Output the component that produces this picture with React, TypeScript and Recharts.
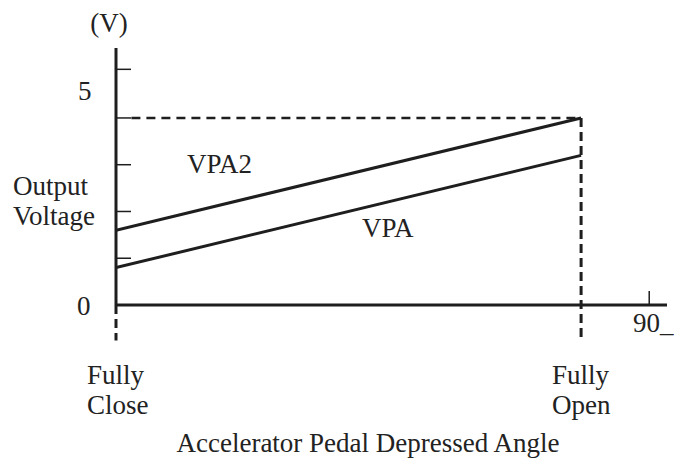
import { LineChart, Line, XAxis, YAxis, ReferenceLine } from "recharts";

// pedal angle (deg) at fully close / fully open
const angles = [0, 78.5];
const vpaValues = [1.0, 4.0];
const vpa2Values = [2.0, 5.0];
const yTicks = [0, 1.25, 2.5, 3.75, 5, 6.3];
const xTicks = [90];

const data = angles.map((a, i) => ({ angle: a, vpa: vpaValues[i], vpa2: vpa2Values[i] }));

const INK = "#1e1e1e";
const FONT = "'Liberation Serif', 'Times New Roman', serif";

const txt = { fontFamily: FONT, fontSize: 27, fill: "#222" };

const NoLabel = () => <g />;

export default function App() {
  return (
    <div style={{ position: "absolute", left: 0, top: 0, background: "#fff" }}>
      <LineChart width={685} height={459} data={data} margin={{ top: 48, right: 18, bottom: 153, left: 115 }}>
        <XAxis
          dataKey="angle"
          type="number"
          domain={[0, 93]}
          allowDataOverflow
          ticks={xTicks}
          height={1}
          tickSize={-14}
          tickMargin={0}
          tick={NoLabel}
          axisLine={{ stroke: INK, strokeWidth: 3 }}
          tickLine={{ stroke: INK, strokeWidth: 1.5 }}
        />
        <YAxis
          type="number"
          domain={[0, 6.87]}
          allowDataOverflow
          ticks={yTicks}
          width={1}
          tickSize={-15}
          tickMargin={0}
          tick={NoLabel}
          axisLine={{ stroke: INK, strokeWidth: 3 }}
          tickLine={{ stroke: INK, strokeWidth: 1.5 }}
        />
        <ReferenceLine
          segment={[{ x: 2.6, y: 5 }, { x: 78.5, y: 5 }]}
          stroke={INK}
          strokeWidth={2.5}
          strokeDasharray="9 6"
          ifOverflow="visible"
        />
        <ReferenceLine
          segment={[{ x: 78.5, y: 5 }, { x: 78.5, y: -0.95 }]}
          stroke={INK}
          strokeWidth={3}
          strokeDasharray="9 5"
          ifOverflow="visible"
        />
        <ReferenceLine
          segment={[{ x: 0, y: 0 }, { x: 0, y: -0.95 }]}
          stroke={INK}
          strokeWidth={3}
          strokeDasharray="9 5"
          ifOverflow="visible"
        />
        <Line type="linear" dataKey="vpa2" stroke={INK} strokeWidth={3} dot={false} isAnimationActive={false} />
        <Line type="linear" dataKey="vpa" stroke={INK} strokeWidth={3} dot={false} isAnimationActive={false} />
        <g>
          <text x={109} y={32} textAnchor="middle" {...txt}>(V)</text>
          <text x={78} y={100} {...txt}>5</text>
          <text x={77} y={315} {...txt}>0</text>
          <text x={13} y={195} {...txt}>Output</text>
          <text x={13} y={225} {...txt}>Voltage</text>
          <text x={187} y={173} {...txt}>VPA2</text>
          <text x={362} y={237} {...txt}>VPA</text>
          <text x={633} y={332} {...txt}>90_</text>
          <text x={87} y={384} {...txt}>Fully</text>
          <text x={87} y={414} {...txt}>Close</text>
          <text x={552} y={384} {...txt}>Fully</text>
          <text x={552} y={414} {...txt}>Open</text>
          <text x={368} y={452} textAnchor="middle" {...txt}>Accelerator Pedal Depressed Angle</text>
        </g>
      </LineChart>
    </div>
  );
}
